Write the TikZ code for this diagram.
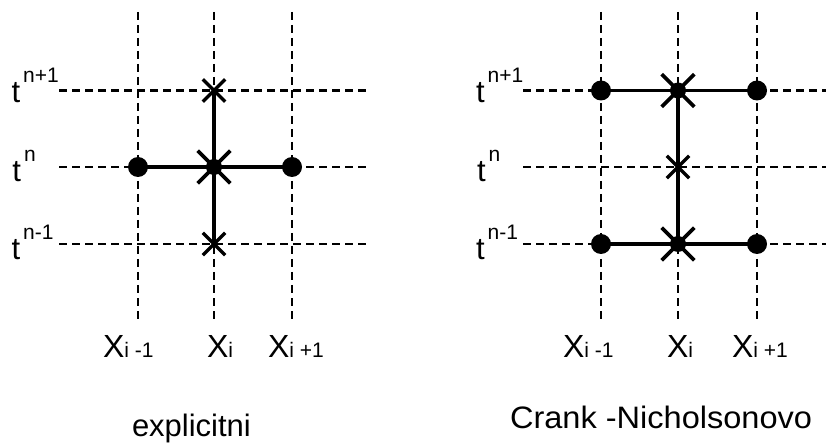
\documentclass[tikz,border=0pt]{standalone}
\usepackage{fontspec}
\setmainfont{Liberation Sans}
\usetikzlibrary{shapes.misc}
\newcommand{\tlab}[1]{\fontsize{31}{31}\selectfont t\hspace{3pt}\raisebox{20pt}{\fontsize{21}{21}\selectfont #1}}
\newcommand{\xlab}[1]{\fontsize{32}{32}\selectfont X{\fontsize{21}{21}\selectfont #1}}
\begin{document}
\begin{tikzpicture}[x=1pt,y=-1pt,
  grid/.style={line width=2.6pt,dash pattern=on 8pt off 5pt},
  link/.style={line width=3.4pt},
  dot/.style={circle,fill=black,inner sep=0pt,minimum size=20pt},
  blob/.style={circle,fill=black,inner sep=0pt,minimum size=16pt},
  bigx/.style={cross out,draw=black,line width=3.6pt,inner sep=0pt,minimum size=29pt},
  smallx/.style={cross out,draw=black,line width=3.4pt,inner sep=0pt,minimum size=19pt},
  lab/.style={anchor=base west,inner sep=0pt,outer sep=0pt}]
\useasboundingbox (0,0) rectangle (826,443);
\fill[white] (0,0) rectangle (826,443);
% ---------------- left panel: explicit ----------------
\coordinate (LvA1) at (138,12);  \coordinate (LvA2) at (138,323);
\coordinate (LvB1) at (214,12);  \coordinate (LvB2) at (214,323);
\coordinate (LvC1) at (292,12);  \coordinate (LvC2) at (292,323);
\coordinate (LhA1) at (59,90.5); \coordinate (LhA2) at (370,90.5);
\coordinate (LhB1) at (59,167);  \coordinate (LhB2) at (370,167);
\coordinate (LhC1) at (59,244);  \coordinate (LhC2) at (370,244);
\foreach \a/\b in {LvA1/LvA2,LvB1/LvB2,LvC1/LvC2,LhA1/LhA2,LhB1/LhB2,LhC1/LhC2}
  \draw[grid] (\a) -- (\b);
\node[dot] (Lw) at (138,167) {};
\node[dot] (Le) at (292,167) {};
\node[blob] (Lc) at (214,167) {};
\node[smallx] (Lt) at (214,90.5) {};
\node[smallx] (Lb) at (214,244) {};
\draw[link] (Lw.center) -- (Le.center);
\draw[link] (Lt.center) -- (Lb.center);
\node[bigx] (Lcx) at (Lc) {};
\node[lab] (Lt1) at (11.5,103) {\tlab{n+1}};
\node[lab] (Lt0) at (12.5,182) {\tlab{n}};
\node[lab] (Lt2) at (11.5,260) {\tlab{n-1}};
\node[lab] (Lx1) at (103,357) {\xlab{i -1}};
\node[lab] (Lx0) at (207,357) {\xlab{i}};
\node[lab] (Lx2) at (268,357) {\xlab{i +1}};
\node[lab] (Ltitle) at (132,436) {\fontsize{31}{31}\selectfont explicitni};
% ---------------- right panel: Crank-Nicholson ----------------
\coordinate (RvA1) at (601,12);  \coordinate (RvA2) at (601,323);
\coordinate (RvB1) at (678,12);  \coordinate (RvB2) at (678,323);
\coordinate (RvC1) at (757,12);  \coordinate (RvC2) at (757,323);
\coordinate (RhA1) at (523,90.5); \coordinate (RhA2) at (826,90.5);
\coordinate (RhB1) at (523,167);  \coordinate (RhB2) at (826,167);
\coordinate (RhC1) at (523,244);  \coordinate (RhC2) at (826,244);
\foreach \a/\b in {RvA1/RvA2,RvB1/RvB2,RvC1/RvC2,RhA1/RhA2,RhB1/RhB2,RhC1/RhC2}
  \draw[grid] (\a) -- (\b);
\node[dot] (Rtw) at (601,90.5) {};
\node[dot] (Rte) at (757,90.5) {};
\node[dot] (Rbw) at (601,244) {};
\node[dot] (Rbe) at (757,244) {};
\node[blob] (Rtc) at (678,90.5) {};
\node[blob] (Rbc) at (678,244) {};
\node[smallx] (Rm) at (678,167) {};
\draw[link] (Rtw.center) -- (Rte.center);
\draw[link] (Rbw.center) -- (Rbe.center);
\draw[link] (Rtc.center) -- (Rbc.center);
\node[bigx] (Rtcx) at (Rtc) {};
\node[bigx] (Rbcx) at (Rbc) {};
\node[lab] (Rt1) at (476,103) {\tlab{n+1}};
\node[lab] (Rt0) at (477,182) {\tlab{n}};
\node[lab] (Rt2) at (476,260) {\tlab{n-1}};
\node[lab] (Rx1) at (563,357) {\xlab{i -1}};
\node[lab] (Rx0) at (667,357) {\xlab{i}};
\node[lab] (Rx2) at (732,357) {\xlab{i +1}};
\node[lab] (Rtitle) at (510,428) {\scalebox{1.05}[1]{\fontsize{31}{31}\selectfont Crank -Nicholsonovo}};
\end{tikzpicture}
\end{document}
